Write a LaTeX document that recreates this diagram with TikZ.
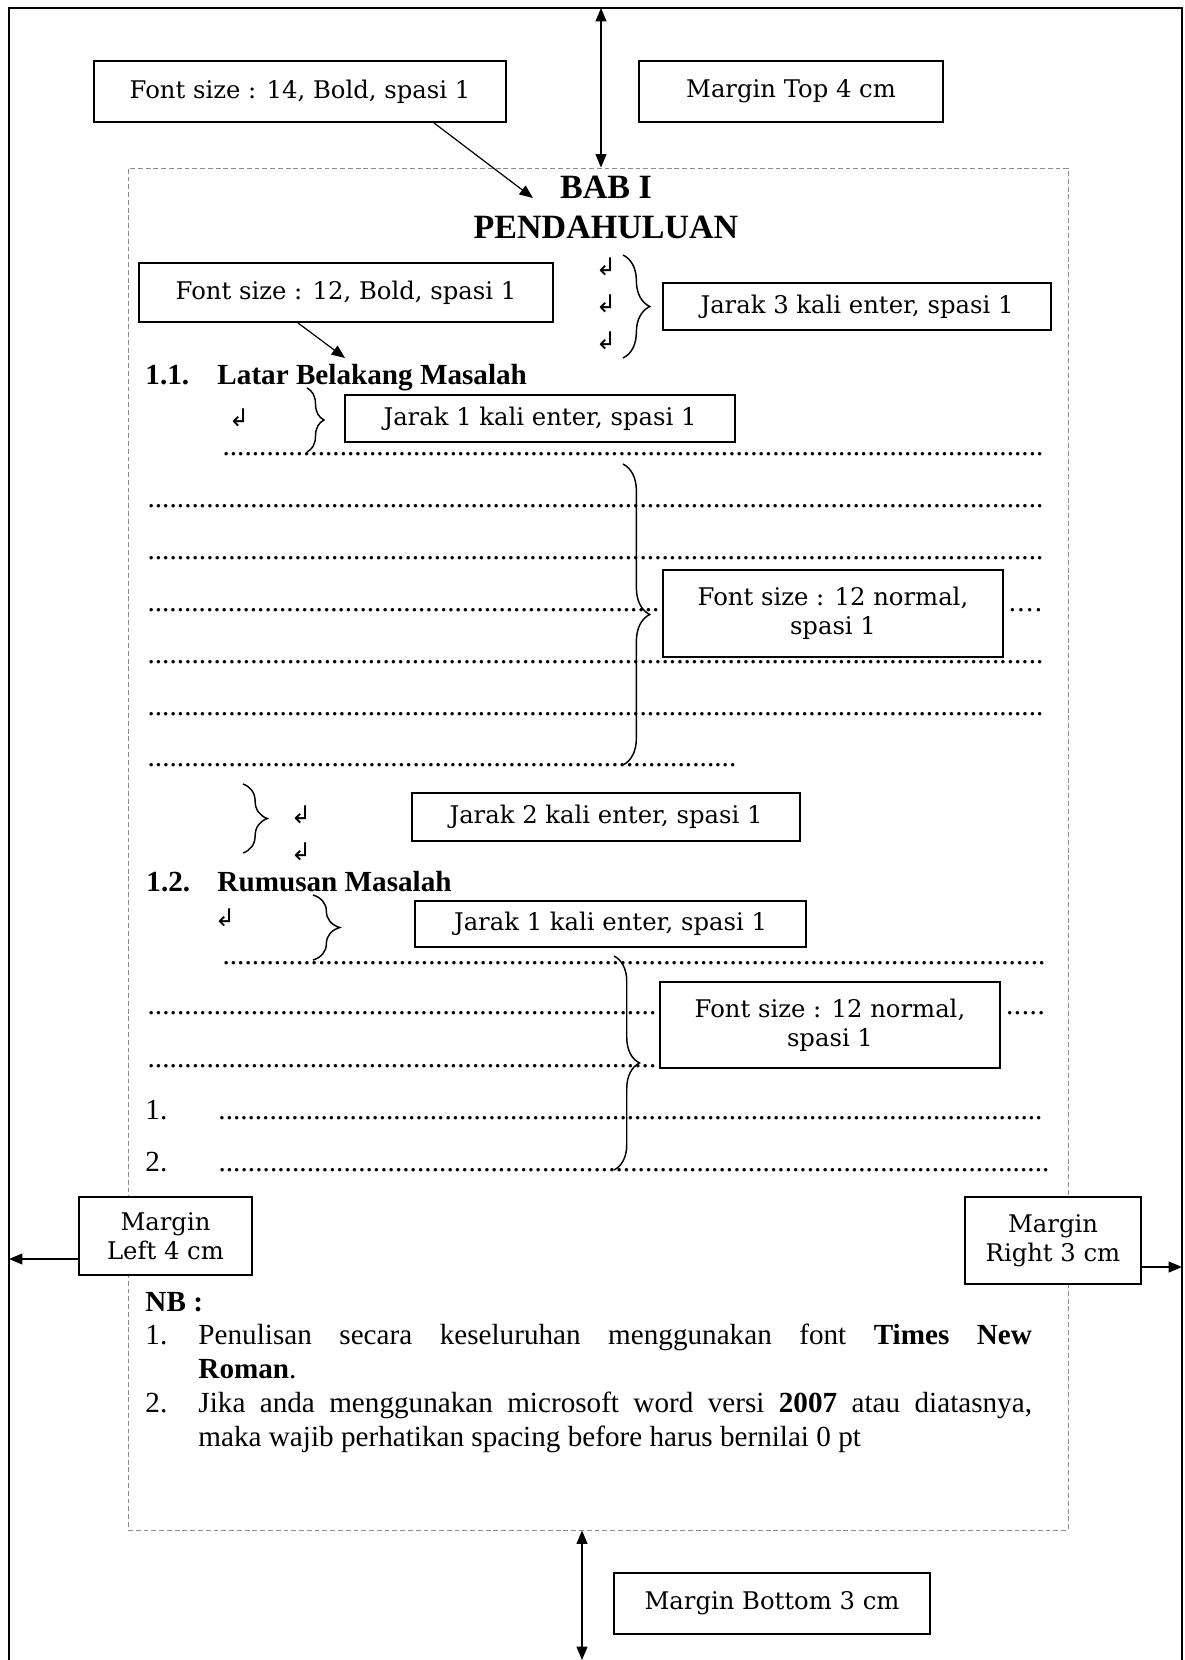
\documentclass[tikz,border=0pt]{standalone}
\usepackage{fontspec}
\setmainfont{Liberation Serif}
\newfontfamily\notefont{DejaVu Serif}
\newfontfamily\symfont{DejaVu Sans}
\usetikzlibrary{arrows.meta, positioning, calc, decorations.pathreplacing}
\definecolor{pgGray}{HTML}{8C8C8C}
\newcommand{\dotrow}[1]{\makebox[\dimexpr0.4115pt*#1\relax][l]{\xleaders\hbox{.}\hfill}}

\begin{document}
\begin{tikzpicture}[x=0.4115pt, y=-0.4115pt,
  boxsize/.style 2 args={minimum width=#1*0.4115pt, minimum height=#2*0.4115pt},
  note/.style={draw, line width=0.8pt, fill=white, inner sep=0pt, align=center,
               font=\notefont\fontsize{10}{12}\selectfont},
  arr/.style={-{Triangle[length=5.5pt, width=4.5pt]}, line width=0.5pt},
  dbl/.style={{Triangle[length=5.5pt, width=4.5pt]}-{Triangle[length=5.5pt, width=4.5pt]}, line width=0.5pt},
  brc/.style={decorate, decoration={brace, amplitude=#1}, line width=0.6pt},
  ret/.style={inner sep=0pt, font=\symfont\fontsize{10}{10}\selectfont},
  body/.style={inner sep=0pt, anchor=base west, font=\fontsize{12}{14}\selectfont},
  head/.style={inner sep=0pt, anchor=base west, font=\bfseries\fontsize{12}{14}\selectfont},
  title/.style={inner sep=0pt, anchor=base, font=\bfseries\fontsize{14}{16}\selectfont}
]
\useasboundingbox (0,0) rectangle (1185,1660);

% sheet and printing area
\draw[line width=1.1pt] (9,1660) -- (9,8) -- (1182,8) -- (1182,1660);
\node[draw=pgGray, dash pattern=on 2pt off 1.2pt, line width=0.4pt, inner sep=0pt, boxsize={940}{1362}] (page) at (598,849) {};

\node[title] (bab) at (606,198) {BAB I};
\node[title] (pend) at (606,238) {PENDAHULUAN};

\node[head] (h11n) at (145,384) {1.1.};
\node[head] (h11) at (217,384) {Latar Belakang Masalah};

\node[body] (r1) at (222,455) {\dotrow{821}};
\node[body] (r2) at (147,507) {\dotrow{896}};
\node[body] (r3) at (147,559) {\dotrow{896}};
\node[body] (r4) at (147,611) {\dotrow{512}};
\node[body] (r4b) at (1007,611) {\dotrow{36}};
\node[body] (r5) at (147,663) {\dotrow{896}};
\node[body] (r6) at (147,715) {\dotrow{896}};
\node[body] (r7) at (147,766) {\dotrow{589}};

\node[head] (h12n) at (146,891) {1.2.};
\node[head] (h12) at (217,891) {Rumusan Masalah};

\node[body] (s1) at (222,964) {\dotrow{823}};
\node[body] (s2) at (147,1014) {\dotrow{509}};
\node[body] (s2b) at (1005,1014) {\dotrow{40}};
\node[body] (s3) at (147,1067) {\dotrow{509}};
\node[body] (n1) at (145,1119) {1.};
\node[body] (s4) at (218,1119) {\dotrow{824}};
\node[body] (n2) at (145,1171) {2.};
\node[body] (s5) at (218,1171) {\dotrow{831}};

% enter marks and braces
\node[ret] (e1) at (606,267) {↲};
\node[ret] (e2) at (606,304) {↲};
\node[ret] (e3) at (606,341) {↲};
\node[ret] (e4) at (239,418) {↲};
\node[ret] (e5) at (301,815) {↲};
\node[ret] (e6) at (301,852) {↲};
\node[ret] (e7) at (225,918) {↲};

\draw[brc=11pt] (623,255) -- (623,358);
\draw[brc=7pt] (307,388) -- (307,452);
\draw[brc=11pt] (623,464) -- (623,765);
\draw[brc=10pt] (243,784) -- (243,853);
\draw[brc=11pt] (313,895) -- (313,960);
\draw[brc=10.5pt] (614,956) -- (614,1170);

% label boxes
\node[note, boxsize={412}{61}] (f14) at (300,91.5) {Font size : 14, Bold, spasi 1};
\node[note, boxsize={304}{61}] (mtop) at (791,91.5) {Margin Top 4 cm};
\node[note, boxsize={414}{59}] (f12) at (346,292.5) {Font size : 12, Bold, spasi 1};
\node[note, boxsize={388}{47}] (jar3) at (857,306.5) {Jarak 3 kali enter, spasi 1};
\node[note, boxsize={390}{47}] (jar1a) at (540,418.5) {Jarak 1 kali enter, spasi 1};
\node[note, boxsize={340}{87}] (norm1) at (833,613.5) {Font size : 12 normal,\\ spasi 1};
\node[note, boxsize={388}{48}] (jar2) at (606,817) {Jarak 2 kali enter, spasi 1};
\node[note, boxsize={391}{46}] (jar1b) at (610.5,924) {Jarak 1 kali enter, spasi 1};
\node[note, boxsize={340}{86}] (norm2) at (830,1025) {Font size : 12 normal,\\ spasi 1};
\node[note, boxsize={173}{78}] (mleft) at (165.5,1236) {Margin\\ Left 4 cm};
\node[note, boxsize={176}{87}] (mright) at (1053,1240.5) {Margin\\ Right 3 cm};
\node[note, boxsize={316}{61}] (mbot) at (772,1603.5) {Margin Bottom 3 cm};

% notes
\node[head] (nb) at (145,1311) {NB :};
\node[body] (k1) at (145,1344) {1.};
\node[body, text width=343pt, align=justify] (t1) at (198,1344)
  {Penulisan secara keseluruhan menggunakan font \textbf{Times New}\linebreak \textbf{Roman}.};
\node[body] (k2) at (145,1412) {2.};
\node[body, text width=343pt, align=justify] (t2) at (198,1412)
  {Jika anda menggunakan microsoft word versi \textbf{2007} atau diatasnya,\linebreak maka wajib perhatikan spacing before harus bernilai 0 pt};

% margin arrows
\coordinate (topedge) at (601,8);
\coordinate (botedge) at (582,1660);
\coordinate (leftedge) at (9,1259);
\coordinate (rightedge) at (1182,1267);
\draw[dbl] (topedge) -- (page.north -| topedge);
\draw[dbl] (page.south -| botedge) -- (botedge);
\draw[arr] (mleft.west |- leftedge) -- (leftedge);
\draw[arr] (mright.east |- rightedge) -- (rightedge);

\draw[arr] ($(f14.south west)+(341,0)$) -- ([xshift=-11pt]bab.base west);
\draw[arr] ($(f12.south west)+(160,0)$) -- ($(h11.base west)+(128,-26)$);
\end{tikzpicture}
\end{document}
